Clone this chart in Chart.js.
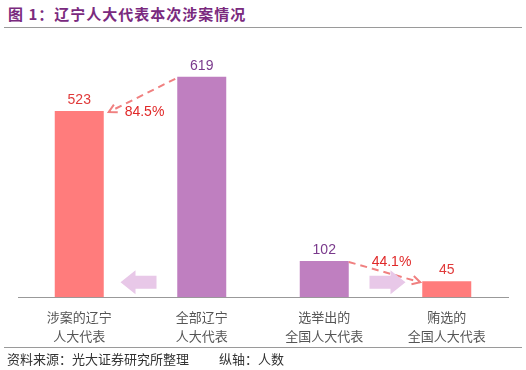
<!DOCTYPE html>
<html lang="zh">
<head>
  <meta charset="UTF-8">
  <title>辽宁人大代表本次涉案情况</title>
  <script src="https://cdn.jsdelivr.net/npm/chart.js"></script>
  <style>
    body {
      margin: 0;
      width: 526px;
      height: 370px;
      background: #fff;
      font-family: "Noto Sans CJK SC", sans-serif;
      position: relative;
      overflow: hidden;
    }
    #title {
      position: absolute;
      left: 8px;
      top: 3px;
      font-size: 15px;
      font-weight: bold;
      color: #7a2a7e;
      letter-spacing: 1px;
    }
    .rule {
      position: absolute;
      left: 4px;
      width: 518px;
      height: 1px;
      background: #9a9a9a;
    }
    #source {
      position: absolute;
      left: 7px;
      top: 349px;
      font-size: 13px;
      color: #333;
    }
    #wrap {
      position: absolute;
      left: 0;
      top: 30px;
      width: 526px;
      height: 325px;
    }
  </style>
</head>
<body>
  <div id="title">图 1：辽宁人大代表本次涉案情况</div>
  <div class="rule" style="top:27px"></div>
  <div id="wrap"><canvas id="c"></canvas></div>
  <div class="rule" style="top:347px"></div>
  <div id="source">资料来源：光大证券研究所整理<span style="display:inline-block;width:30px"></span>纵轴：人数</div>

  <script>
    const categories = [
      ['涉案的辽宁', '人大代表'],
      ['全部辽宁', '人大代表'],
      ['选举出的', '全国人大代表'],
      ['贿选的', '全国人大代表']
    ];
    const values = [523, 619, 102, 45];
    const ratioLabels = ['84.5%', '44.1%'];

    const RED = '#ff7c7c';
    const PURPLE = '#bf7fc0';
    const barColors = [RED, PURPLE, PURPLE, RED];
    const valueColors = ['#e03a3a', '#7a3a8c', '#7a3a8c', '#e03a3a'];

    const overlay = {
      id: 'overlay',
      afterDatasetsDraw(chart) {
        const ctx = chart.ctx;
        const bars = chart.getDatasetMeta(0).data;
        const base = chart.scales.y.getPixelForValue(0);

        // value labels
        ctx.save();
        ctx.font = '14px "Liberation Sans", Arial, sans-serif';
        ctx.textAlign = 'center';
        ctx.textBaseline = 'bottom';
        bars.forEach((b, i) => {
          ctx.fillStyle = valueColors[i];
          ctx.fillText(values[i], b.x, b.y - 4);
        });
        ctx.restore();

        // dashed arrows between pairs
        function dashed(x1, y1, x2, y2) {
          ctx.save();
          ctx.strokeStyle = '#f08080';
          ctx.lineWidth = 2;
          ctx.setLineDash([7, 5]);
          ctx.beginPath();
          ctx.moveTo(x1, y1);
          ctx.lineTo(x2, y2);
          ctx.stroke();
          ctx.setLineDash([]);
          const a = Math.atan2(y2 - y1, x2 - x1);
          ctx.beginPath();
          ctx.moveTo(x2 - 9 * Math.cos(a - 0.5), y2 - 9 * Math.sin(a - 0.5));
          ctx.lineTo(x2, y2);
          ctx.lineTo(x2 - 9 * Math.cos(a + 0.5), y2 - 9 * Math.sin(a + 0.5));
          ctx.stroke();
          ctx.restore();
        }
        const b0 = bars[0], b1 = bars[1], b2 = bars[2], b3 = bars[3];
        dashed(b1.x - b1.width / 2 - 2, b1.y + 2, b0.x + b0.width / 2 + 5, b0.y + 1);
        dashed(b2.x + b2.width / 2, b2.y + 1, b3.x - b3.width / 2 - 2, b3.y + 1);

        ctx.save();
        ctx.font = '14px "Liberation Sans", Arial, sans-serif';
        ctx.fillStyle = '#e02828';
        ctx.textAlign = 'center';
        ctx.textBaseline = 'middle';
        ctx.fillText(ratioLabels[0], (b0.x + b1.x) / 2 + 4, b0.y + 1);
        ctx.fillText(ratioLabels[1], (b2.x + b3.x) / 2 + 6, b2.y + 1);
        ctx.restore();

        // light block arrows
        function block(cx, cy, dir) {
          const len = 36, bodyH = 13, headH = 24, headL = 15;
          ctx.save();
          ctx.fillStyle = '#e8c8e8';
          ctx.translate(cx, cy);
          ctx.scale(dir, 1);
          ctx.beginPath();
          ctx.moveTo(len / 2, 0);
          ctx.lineTo(len / 2 - headL, -headH / 2);
          ctx.lineTo(len / 2 - headL, -bodyH / 2);
          ctx.lineTo(-len / 2, -bodyH / 2);
          ctx.lineTo(-len / 2, bodyH / 2);
          ctx.lineTo(len / 2 - headL, bodyH / 2);
          ctx.lineTo(len / 2 - headL, headH / 2);
          ctx.closePath();
          ctx.fill();
          ctx.restore();
        }
        block((b0.x + b1.x) / 2 - 2, base - 15, -1);
        block((b2.x + b3.x) / 2 + 2, base - 15, 1);
      }
    };

    new Chart(document.getElementById('c'), {
      type: 'bar',
      data: {
        labels: categories,
        datasets: [{
          data: values,
          backgroundColor: barColors,
          borderWidth: 0,
          barPercentage: 0.8,
          categoryPercentage: 0.5
        }]
      },
      options: {
        responsive: true,
        maintainAspectRatio: false,
        animation: false,
        layout: { padding: { left: 18, right: 18, top: 18, bottom: 0 } },
        plugins: { legend: { display: false }, tooltip: { enabled: false } },
        scales: {
          y: { display: false, min: 0, max: 700 },
          x: {
            grid: { display: false, drawTicks: false },
            border: { color: '#999', width: 1 },
            ticks: {
              color: '#555',
              padding: 10,
              font: { family: '"Noto Sans CJK SC"', size: 13, lineHeight: 1.45 }
            }
          }
        }
      },
      plugins: [overlay]
    });
  </script>
</body>
</html>
